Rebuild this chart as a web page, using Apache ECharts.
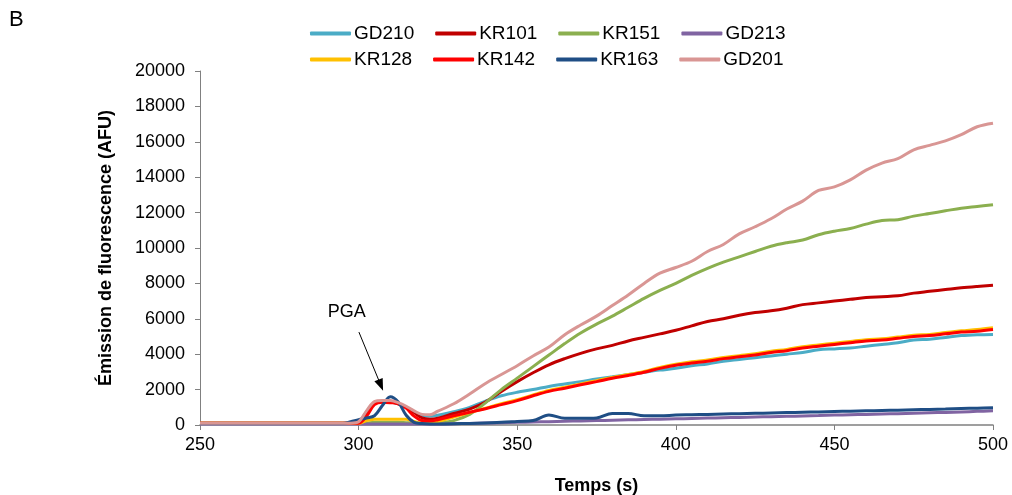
<!DOCTYPE html>
<html>
<head>
<meta charset="utf-8">
<script src="https://cdn.jsdelivr.net/npm/echarts@6/dist/echarts.min.js"></script>
<style>
html,body{margin:0;padding:0;background:#fff;}
#c{width:1012px;height:495px;}
</style>
</head>
<body>
<div id="c"></div>
<script>
// Time points (s)
const times = [250,260,270,280,290,295,297.5,300,302.5,305,307.5,310,312.5,315,317.5,320,322.5,325,
  330,335,340,345,350,355,360,365,370,375,380,385,390,395,400,405,410,415,420,425,430,435,440,445,450,455,460,465,470,475,480,485,490,495,500];

const GD210 = [100,100,100,100,100,100,100,150,750,1250,1330,1320,1200,1000,750,550,500,550,
  750,1000,1350,1650,1850,2000,2180,2320,2450,2600,2720,2850,2980,3100,3200,3350,3450,3600,3700,3800,3900,4000,4100,4250,4300,4350,4450,4550,4650,4800,4850,4950,5050,5100,5120];
const KR101 = [100,100,100,100,100,100,100,150,700,1250,1320,1300,1200,1000,700,400,330,380,
  650,900,1300,1900,2450,2950,3400,3750,4050,4300,4500,4750,4950,5150,5350,5600,5850,6000,6200,6350,6450,6600,6800,6900,7000,7100,7200,7250,7300,7450,7550,7650,7750,7830,7900];
const KR151 = [100,100,100,100,100,100,100,100,120,150,150,150,150,130,110,100,100,120,
  250,600,1250,2000,2650,3300,3950,4600,5200,5700,6150,6650,7150,7600,8000,8450,8850,9200,9500,9800,10100,10300,10450,10750,10950,11100,11350,11550,11600,11800,11950,12100,12250,12350,12450];
const GD213 = [50,50,50,50,50,50,50,50,50,50,50,50,50,50,50,50,50,50,
  70,90,110,130,150,170,190,210,230,250,270,290,310,330,350,370,390,410,430,450,470,490,510,530,560,580,600,620,640,670,690,710,740,770,800];
const KR128 = [100,100,100,100,100,100,100,100,250,320,330,330,330,320,200,100,100,200,
  450,700,950,1200,1430,1700,1950,2130,2320,2500,2690,2850,3030,3250,3430,3570,3670,3820,3920,4020,4170,4270,4420,4520,4620,4720,4820,4870,4970,5070,5120,5220,5320,5400,5500];
const KR142 = [100,100,100,100,100,100,100,100,500,1150,1290,1260,1200,950,500,250,220,300,
  520,720,920,1150,1380,1650,1900,2080,2270,2450,2640,2800,2980,3200,3380,3500,3600,3750,3850,3950,4100,4200,4350,4450,4550,4650,4750,4800,4900,5000,5050,5150,5250,5300,5400];
const KR163 = [80,80,80,80,80,80,180,300,400,520,1100,1600,1300,550,150,80,60,60,
  70,90,120,150,200,250,560,380,380,400,650,650,520,520,560,580,600,620,640,660,680,700,720,740,760,780,800,820,840,860,880,900,930,950,980];
const GD201 = [100,100,100,100,100,100,100,180,800,1320,1390,1380,1260,1060,800,600,580,780,
  1200,1750,2350,2850,3350,3900,4400,5100,5650,6150,6750,7350,8000,8580,8900,9250,9800,10200,10800,11200,11650,12200,12650,13250,13450,13850,14400,14800,15050,15550,15800,16050,16400,16850,17050];

const seriesNames = ['GD210','KR101','KR151','GD213','KR128','KR142','KR163','GD201'];
const seriesValues = [GD210,KR101,KR151,GD213,KR128,KR142,KR163,GD201];
const colors = ['#4BACC6','#C00000','#8BAF4F','#8064A2','#FFC000','#FF0000','#1F4E85','#D99694'];

const xTicks = {min:250, max:500, interval:50};
const yTicks = {min:0, max:20000, interval:2000};

// annotation (data coordinates)
const pgaText = 'PGA';
const pgaLabelPos = [296.3, 6400];
const pgaArrowFrom = [300.1, 5250];
const pgaArrowTo = [307.0, 2250];

const FONT = 'Liberation Sans, Arial, sans-serif';

const series = seriesNames.map((n,i)=>{
  const s = {
    name:n, type:'line', smooth:0.35, showSymbol:false, symbol:'none',
    data: times.map((t,k)=>[t, seriesValues[i][k]]),
    lineStyle:{width:3, color:colors[i]},
    itemStyle:{color:colors[i]},
    emphasis:{disabled:true},
    z: 2+i
  };
  if(n==='GD201'){
    s.markLine = {
      silent:true, animation:false,
      symbol:['none','triangle'], symbolSize:[9,12],
      lineStyle:{color:'#000', width:1, type:'solid'},
      itemStyle:{color:'#000'},
      label:{show:false},
      data:[[{coord:pgaArrowFrom},{coord:pgaArrowTo}]]
    };
    s.markPoint = {
      silent:true, animation:false,
      symbol:'circle', symbolSize:1, itemStyle:{color:'rgba(0,0,0,0)'},
      label:{show:true, position:'inside', formatter:pgaText, color:'#000', fontSize:18, fontFamily:FONT},
      data:[{coord:pgaLabelPos}]
    };
  }
  return s;
});

const legendCommon = {
  left:310, itemGap:21, itemWidth:41, itemHeight:4, icon:'roundRect', selectedMode:false,
  padding:0,
  textStyle:{fontSize:19, color:'#000', fontFamily:FONT, padding:[0,0,0,-2]}
};

const chart = echarts.init(document.getElementById('c'), null, {renderer:'canvas'});
chart.setOption({
  animation:false,
  backgroundColor:'#fff',
  title:{text:'B', left:9, top:9, padding:0, textStyle:{fontSize:22, fontWeight:'normal', color:'#000', fontFamily:FONT}},
  legend:[
    Object.assign({}, legendCommon, {top:24, data:seriesNames.slice(0,4)}),
    Object.assign({}, legendCommon, {top:50, data:seriesNames.slice(4)})
  ],
  grid:{left:200, right:19, top:71, bottom:70, containLabel:false, outerBoundsMode:'none'},
  xAxis:{
    type:'value', min:xTicks.min, max:xTicks.max, interval:xTicks.interval,
    name:'Temps (s)', nameLocation:'middle', nameGap:52,
    nameTextStyle:{fontSize:18, fontWeight:'bold', color:'#000', fontFamily:FONT},
    axisLine:{show:true, onZero:false, lineStyle:{color:'#808080', width:1.5}},
    axisTick:{show:true, length:5, inside:false, lineStyle:{color:'#808080'}},
    axisLabel:{fontSize:18, color:'#000', margin:11, fontFamily:FONT},
    splitLine:{show:false}
  },
  yAxis:{
    type:'value', min:yTicks.min, max:yTicks.max, interval:yTicks.interval,
    name:'Émission de fluorescence (AFU)', nameLocation:'middle', nameGap:85, nameRotate:90,
    nameTextStyle:{fontSize:18, fontWeight:'bold', color:'#000', fontFamily:FONT},
    axisLine:{show:true, lineStyle:{color:'#808080', width:1}},
    axisTick:{show:true, length:5, inside:false, lineStyle:{color:'#808080'}},
    axisLabel:{fontSize:18, color:'#000', margin:15, fontFamily:FONT, formatter:(v)=>String(v)},
    splitLine:{show:false}
  },
  series: series
});
</script>
</body>
</html>
